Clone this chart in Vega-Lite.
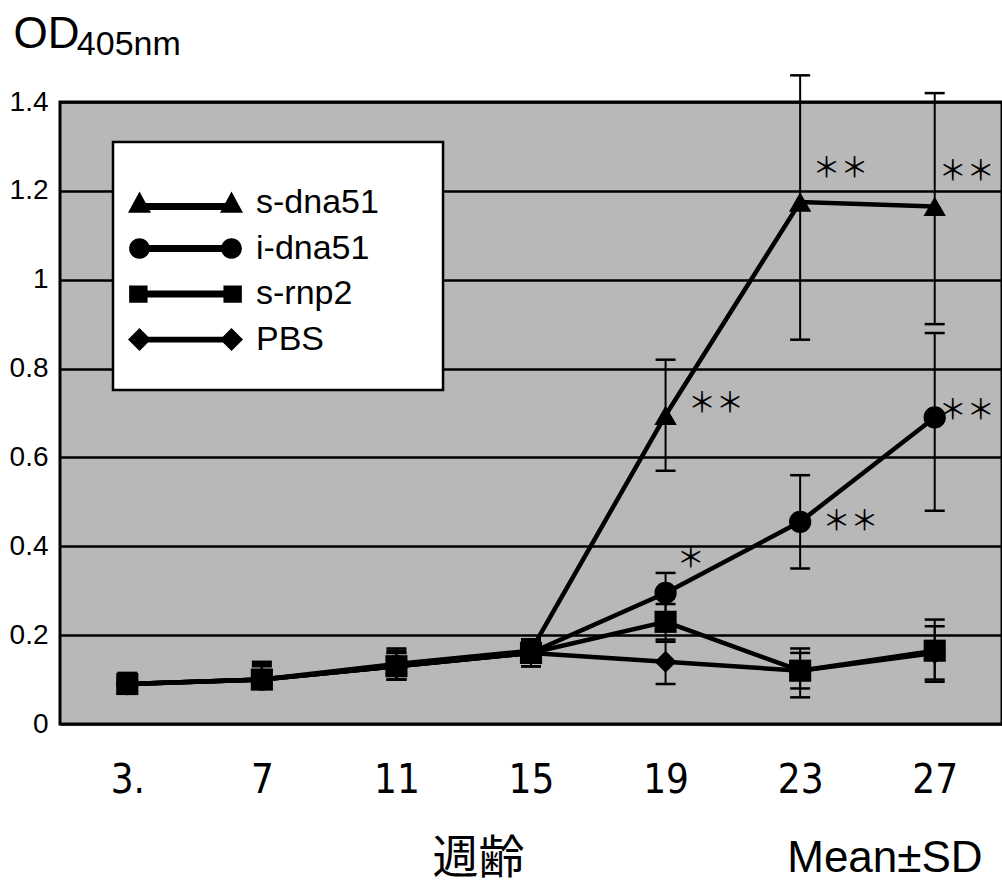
{
  "$schema": "https://vega.github.io/schema/vega-lite/v6.json",
  "width": 942,
  "height": 622,
  "autosize": {"type": "none"},
  "padding": {"left": 60, "top": 102, "right": 0, "bottom": 161},
  "background": "white",
  "config": {
    "view": {"fill": "#b8b8b8", "stroke": "black", "strokeWidth": 3},
    "font": "Liberation Sans"
  },
  "datasets": {
    "od": [
      {"week": 3, "series": "PBS", "mean": 0.09, "lo": 0.07, "hi": 0.11},
      {"week": 7, "series": "PBS", "mean": 0.10, "lo": 0.08, "hi": 0.12},
      {"week": 11, "series": "PBS", "mean": 0.13, "lo": 0.10, "hi": 0.16},
      {"week": 15, "series": "PBS", "mean": 0.16, "lo": 0.13, "hi": 0.19},
      {"week": 19, "series": "PBS", "mean": 0.14, "lo": 0.09, "hi": 0.185},
      {"week": 23, "series": "PBS", "mean": 0.12, "lo": 0.08, "hi": 0.16},
      {"week": 27, "series": "PBS", "mean": 0.16, "lo": 0.10, "hi": 0.22},
      {"week": 3, "series": "s-dna51", "mean": 0.09, "lo": 0.07, "hi": 0.11},
      {"week": 7, "series": "s-dna51", "mean": 0.10, "lo": 0.08, "hi": 0.13},
      {"week": 11, "series": "s-dna51", "mean": 0.135, "lo": 0.11, "hi": 0.165},
      {"week": 15, "series": "s-dna51", "mean": 0.165, "lo": 0.14, "hi": 0.19},
      {"week": 19, "series": "s-dna51", "mean": 0.695, "lo": 0.57, "hi": 0.82},
      {"week": 23, "series": "s-dna51", "mean": 1.175, "lo": 0.865, "hi": 1.46},
      {"week": 27, "series": "s-dna51", "mean": 1.165, "lo": 0.90, "hi": 1.42},
      {"week": 3, "series": "i-dna51", "mean": 0.09, "lo": 0.07, "hi": 0.11},
      {"week": 7, "series": "i-dna51", "mean": 0.10, "lo": 0.08, "hi": 0.14},
      {"week": 11, "series": "i-dna51", "mean": 0.13, "lo": 0.10, "hi": 0.16},
      {"week": 15, "series": "i-dna51", "mean": 0.16, "lo": 0.13, "hi": 0.185},
      {"week": 19, "series": "i-dna51", "mean": 0.295, "lo": 0.25, "hi": 0.34},
      {"week": 23, "series": "i-dna51", "mean": 0.455, "lo": 0.35, "hi": 0.56},
      {"week": 27, "series": "i-dna51", "mean": 0.69, "lo": 0.48, "hi": 0.88},
      {"week": 3, "series": "s-rnp2", "mean": 0.09, "lo": 0.07, "hi": 0.115},
      {"week": 7, "series": "s-rnp2", "mean": 0.10, "lo": 0.08, "hi": 0.135},
      {"week": 11, "series": "s-rnp2", "mean": 0.13, "lo": 0.10, "hi": 0.17},
      {"week": 15, "series": "s-rnp2", "mean": 0.16, "lo": 0.13, "hi": 0.19},
      {"week": 19, "series": "s-rnp2", "mean": 0.23, "lo": 0.19, "hi": 0.27},
      {"week": 23, "series": "s-rnp2", "mean": 0.12, "lo": 0.06, "hi": 0.17},
      {"week": 27, "series": "s-rnp2", "mean": 0.165, "lo": 0.095, "hi": 0.235}
    ],
    "notes": [
      {"x": 20.5, "y": 0.718, "t": "＊＊"},
      {"x": 19.75, "y": 0.369, "t": "＊"},
      {"x": 24.5, "y": 0.452, "t": "＊＊"},
      {"x": 27.95, "y": 0.702, "t": "＊＊"},
      {"x": 24.2, "y": 1.247, "t": "＊＊"},
      {"x": 27.95, "y": 1.24, "t": "＊＊"}
    ]
  },
  "layer": [
    {
      "data": {"name": "od"},
      "mark": {"type": "line", "color": "black", "strokeWidth": 4.5},
      "encoding": {
        "x": {
          "field": "week", "type": "quantitative",
          "scale": {"domain": [1, 29], "nice": false, "zero": false},
          "axis": {
            "values": [3, 7, 11, 15, 19, 23, 27],
            "grid": false, "ticks": false, "domain": false,
            "labelFont": "DejaVu Sans Condensed, Liberation Sans", "labelFontSize": 40, "labelPadding": 36,
            "labelColor": "black",
            "labelExpr": "datum.value == 3 ? '3.' : datum.label",
            "title": "週齢", "titleFont": "Noto Sans CJK JP", "titleFontSize": 46,
            "titleFontWeight": "normal", "titleColor": "black",
            "titleX": 418, "titleY": 134, "titleBaseline": "middle", "titleAlign": "center"
          }
        },
        "y": {
          "field": "mean", "type": "quantitative",
          "scale": {"domain": [0, 1.4], "nice": false, "zero": false},
          "axis": {
            "values": [0, 0.2, 0.4, 0.6, 0.8, 1, 1.2, 1.4],
            "format": "~g",
            "grid": true, "gridColor": "black", "gridWidth": 2.5, "gridOpacity": 1,
            "ticks": false, "domain": false,
            "labelFontSize": 28, "labelPadding": 12, "labelColor": "black",
            "title": "OD", "titleAngle": 0, "titleAlign": "left", "titleBaseline": "alphabetic",
            "titleX": -47, "titleY": -55, "titleFontSize": 44, "titleFontWeight": "normal",
            "titleColor": "black"
          }
        },
        "detail": {"field": "series", "type": "nominal"}
      }
    },
    {
      "data": {"name": "od"},
      "mark": {"type": "rule", "color": "black", "strokeWidth": 2},
      "encoding": {
        "x": {"field": "week", "type": "quantitative"},
        "y": {"field": "lo", "type": "quantitative"},
        "y2": {"field": "hi"}
      }
    },
    {
      "data": {"name": "od"},
      "mark": {"type": "tick", "orient": "horizontal", "color": "black", "thickness": 2.5, "size": 20, "opacity": 1},
      "encoding": {
        "x": {"field": "week", "type": "quantitative"},
        "y": {"field": "hi", "type": "quantitative"}
      }
    },
    {
      "data": {"name": "od"},
      "mark": {"type": "tick", "orient": "horizontal", "color": "black", "thickness": 2.5, "size": 20, "opacity": 1},
      "encoding": {
        "x": {"field": "week", "type": "quantitative"},
        "y": {"field": "lo", "type": "quantitative"}
      }
    },
    {
      "data": {"name": "od"},
      "mark": {"type": "point", "filled": true, "color": "black", "opacity": 1},
      "encoding": {
        "x": {"field": "week", "type": "quantitative"},
        "y": {"field": "mean", "type": "quantitative"},
        "shape": {
          "field": "series", "type": "nominal",
          "scale": {"domain": ["s-dna51", "i-dna51", "s-rnp2", "PBS"], "range": ["triangle-up", "circle", "square", "diamond"]},
          "legend": null
        },
        "size": {
          "field": "series", "type": "ordinal",
          "scale": {"domain": ["s-dna51", "i-dna51", "s-rnp2", "PBS"], "range": [500, 484, 260, 380]},
          "legend": null
        }
      }
    },
    {
      "data": {"values": [{}]},
      "mark": {"type": "rect", "fill": "white", "stroke": "black", "strokeWidth": 2.5},
      "encoding": {
        "x": {"datum": 2.575, "type": "quantitative"},
        "x2": {"datum": 12.385},
        "y": {"datum": 1.31, "type": "quantitative"},
        "y2": {"datum": 0.752}
      }
    },
    {
      "data": {"name": "od"},
      "mark": {"type": "point", "filled": true, "color": "black", "opacity": 0},
      "encoding": {
        "x": {"field": "week", "type": "quantitative"},
        "y": {"field": "mean", "type": "quantitative"},
        "shape": {
          "field": "series", "type": "nominal",
          "scale": {
            "domain": ["s-dna51", "i-dna51", "s-rnp2", "PBS"],
            "range": [
              "M-1,0.17L-0.8,-0.2L-0.6,0.17ZM0.6,0.17L0.8,-0.2L1,0.17ZM-0.8,0L0.8,0L0.8,0.12L-0.8,0.12Z",
              "M-0.98,0A0.18,0.18,0,1,1,-0.62,0A0.18,0.18,0,1,1,-0.98,0ZM0.62,0A0.18,0.18,0,1,1,0.98,0A0.18,0.18,0,1,1,0.62,0ZM-0.8,-0.06L0.8,-0.06L0.8,0.06L-0.8,0.06Z",
              "M-0.98,-0.15L-0.66,-0.15L-0.66,0.15L-0.98,0.15ZM0.66,-0.15L0.98,-0.15L0.98,0.15L0.66,0.15ZM-0.8,-0.06L0.8,-0.06L0.8,0.06L-0.8,0.06Z",
              "M-1,0L-0.8,-0.2L-0.6,0L-0.8,0.2ZM0.6,0L0.8,-0.2L1,0L0.8,0.2ZM-0.8,-0.05L0.8,-0.05L0.8,0.05L-0.8,0.05Z"
            ]
          },
          "legend": {
            "title": null, "orient": "none", "legendX": 68, "legendY": 86,
            "symbolSize": 13225, "symbolOpacity": 1,
            "symbolFillColor": "black", "symbolStrokeColor": "black", "symbolStrokeWidth": 0,
            "clipHeight": 30, "rowPadding": 11.5,
            "labelFontSize": 34, "labelColor": "black", "labelOffset": 13,
            "labelFont": "Liberation Sans", "labelLimit": 300, "padding": 0
          }
        }
      }
    },
    {
      "data": {"name": "notes"},
      "mark": {"type": "text", "font": "Noto Sans CJK JP", "fontSize": 28, "color": "black", "baseline": "middle", "align": "center"},
      "encoding": {
        "x": {"field": "x", "type": "quantitative"},
        "y": {"field": "y", "type": "quantitative"},
        "text": {"field": "t"}
      }
    },
    {
      "data": {"values": [{}]},
      "mark": {"type": "text", "text": "405nm", "fontSize": 34, "color": "black", "baseline": "alphabetic", "align": "left"},
      "encoding": {
        "x": {"datum": 1.5, "type": "quantitative"},
        "y": {"datum": 1.506, "type": "quantitative"}
      }
    },
    {
      "data": {"values": [{}]},
      "mark": {"type": "text", "text": "Mean±SD", "fontSize": 44, "color": "black", "baseline": "alphabetic", "align": "center"},
      "encoding": {
        "x": {"datum": 25.52, "type": "quantitative"},
        "y": {"datum": -0.333, "type": "quantitative"}
      }
    }
  ],
  "resolve": {"scale": {"shape": "independent"}, "legend": {"shape": "independent"}}
}
